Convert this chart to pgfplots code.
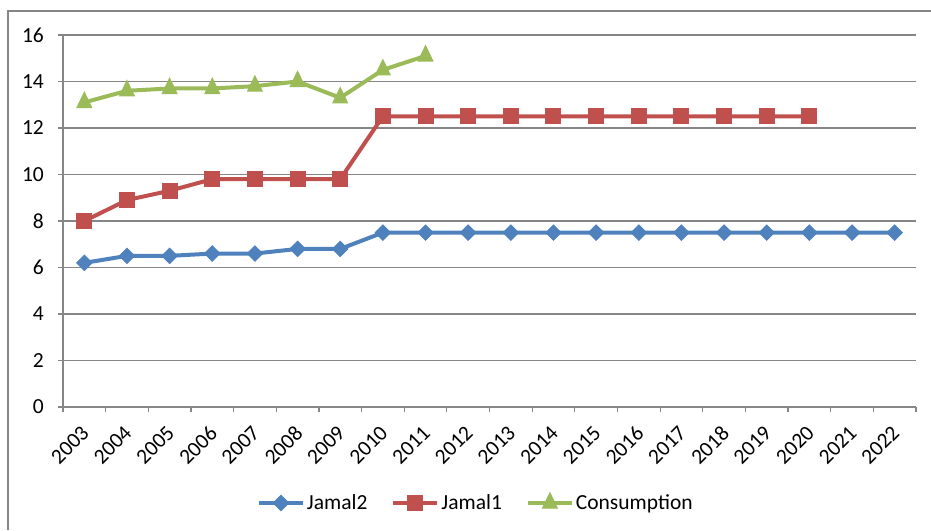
\documentclass[border=0pt]{standalone}
\usepackage{pgfplots}
\pgfplotsset{compat=1.18}
\usepackage{fontspec}
\setmainfont{Carlito}
\definecolor{c1}{HTML}{4F81BD}
\definecolor{c2}{HTML}{C0504D}
\definecolor{c3}{HTML}{9BBB59}
\definecolor{gr}{HTML}{868686}
\begin{document}
\begin{tikzpicture}[x=1pt,y=1pt,font=\fontsize{21.5}{25}\selectfont]
\useasboundingbox (-63,-123) rectangle (868,407);
\draw[gr, line width=1.2pt] (-55,-123) -- (-55,396) -- (868,396);
\begin{axis}[at={(0,0)}, anchor=south west, scale only axis,
  width=853pt, height=372pt,
  xmin=-0.5, xmax=19.5, ymin=0, ymax=16,
  axis x line*=bottom, axis y line*=left,
  axis line style={gr, line width=1.2pt, -},
  ytick={0,2,...,16}, ymajorgrids, grid style={gr, line width=1.2pt},
  xtick={0,...,19},
  xticklabels={2003,2004,2005,2006,2007,2008,2009,2010,2011,2012,2013,2014,2015,2016,2017,2018,2019,2020,2021,2022},
  minor xtick={-0.5,0.5,...,19.5},
  major x tick style={draw=none},
  tick align=outside, tick style={gr, line width=1.2pt},
  major tick length=5pt, minor tick length=5pt,
  /pgf/number format/assume math mode=true,
  ticklabel style={font=\fontsize{21.5}{25}\selectfont},
  xticklabel style={xshift=-4pt, yshift=-11pt, rotate=45, anchor=north east, inner sep=1pt},
  yticklabel style={inner sep=2pt, xshift=-12pt},
  legend style={at={(axis description cs:0.484,-0.258)}, anchor=center, draw=none,
    font=\fontsize{21.5}{25}\selectfont, inner sep=0pt,
    /tikz/every even column/.append style={column sep=22pt}},
  legend columns=3,
  legend image code/.code={\draw[mark repeat=2, mark phase=2] plot coordinates {(0pt,0pt) (22pt,0pt) (44pt,0pt)};},
  clip=false,
]
\addplot[c1, line width=4pt, mark=square*, mark size=5.4pt, mark options={solid, rotate=45, line width=1pt, fill=c1}] coordinates {
(0,6.2) (1,6.5) (2,6.5) (3,6.6) (4,6.6) (5,6.8) (6,6.8) (7,7.5) (8,7.5) (9,7.5) (10,7.5) (11,7.5) (12,7.5) (13,7.5) (14,7.5) (15,7.5) (16,7.5) (17,7.5) (18,7.5) (19,7.5)};
\addlegendentry{Jamal2}
\addplot[c2, line width=4pt, mark=square*, mark size=7.5pt, mark options={solid, line width=1pt, fill=c2}] coordinates {
(0,8.0) (1,8.9) (2,9.3) (3,9.8) (4,9.8) (5,9.8) (6,9.8) (7,12.5) (8,12.5) (9,12.5) (10,12.5) (11,12.5) (12,12.5) (13,12.5) (14,12.5) (15,12.5) (16,12.5) (17,12.5)};
\addlegendentry{Jamal1}
\addplot[c3, line width=4pt, mark=triangle*, mark size=8.5pt, mark options={solid, yscale=1.2, line width=1pt, fill=c3}] coordinates {
(0,13.1) (1,13.6) (2,13.7) (3,13.7) (4,13.8) (5,14.0) (6,13.3) (7,14.5) (8,15.1)};
\addlegendentry{Consumption}
\end{axis}
\end{tikzpicture}
\end{document}
